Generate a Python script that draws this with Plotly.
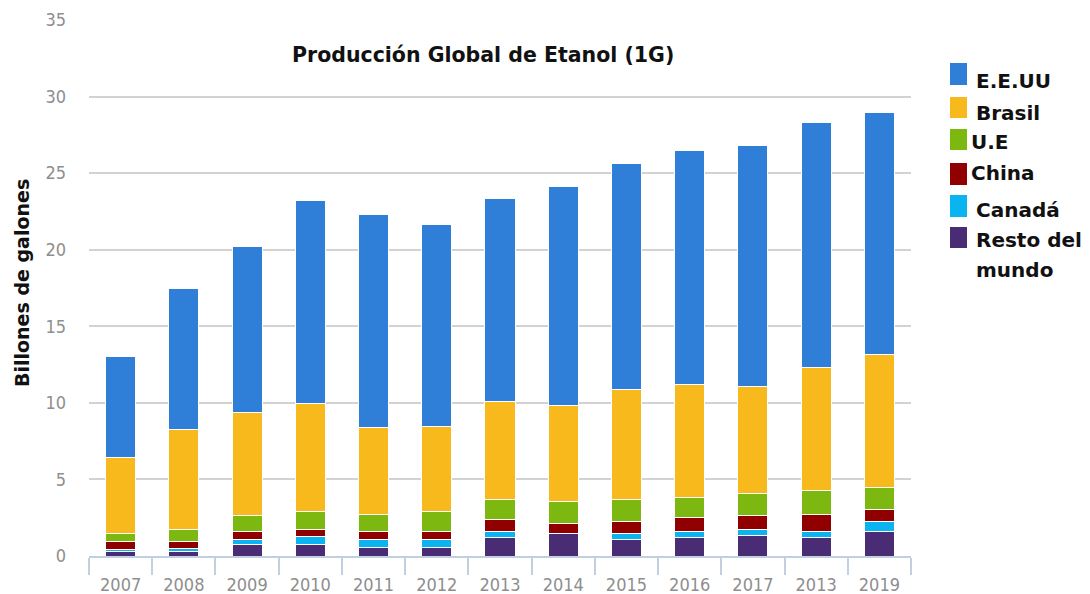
import plotly.graph_objects as go

# Global fuel ethanol production, billions of gallons
years = ["2007", "2008", "2009", "2010", "2011", "2012", "2013",
         "2014", "2015", "2016", "2017", "2018", "2019"]
year_labels = ["2007", "2008", "2009", "2010", "2011", "2012", "2013",
               "2014", "2015", "2016", "2017", "2013", "2019"]

resto_mundo = [0.28, 0.28, 0.78, 0.78, 0.54, 0.54, 1.22, 1.48, 1.09, 1.20, 1.33, 1.22, 1.59]
canada = [0.16, 0.22, 0.31, 0.48, 0.55, 0.55, 0.37, 0.00, 0.39, 0.39, 0.41, 0.37, 0.65]
china = [0.49, 0.43, 0.50, 0.48, 0.50, 0.50, 0.81, 0.66, 0.76, 0.91, 0.89, 1.15, 0.81]
ue = [0.55, 0.81, 1.04, 1.15, 1.15, 1.30, 1.30, 1.45, 1.46, 1.33, 1.47, 1.51, 1.44]
brasil = [4.94, 6.54, 6.71, 7.04, 5.62, 5.56, 6.36, 6.21, 7.14, 7.40, 7.00, 8.03, 8.64]
eeuu = [6.58, 9.16, 10.84, 13.26, 13.91, 13.17, 13.26, 14.30, 14.81, 15.22, 15.68, 16.00, 15.80]

series_names = ["Resto del mundo", "Canadá", "China", "U.E", "Brasil", "E.E.UU"]
series_values = [resto_mundo, canada, china, ue, brasil, eeuu]
series_colors = ["#4A2C74", "#0AB4F0", "#910000", "#7CB80F", "#F8B91C", "#2F7ED8"]

W, H = 1090, 594
ML, MR, MT, MB = 89, 179, 20, 38
PW, PH = W - ML - MR, H - MT - MB


def px_x(x):
    return (x - ML) / PW


def px_y(y):
    return (H - MB - y) / PH


fig = go.Figure()
for name, vals, col in zip(series_names, series_values, series_colors):
    fig.add_trace(go.Bar(
        x=years, y=vals, name=name, showlegend=False,
        marker=dict(color=col, line=dict(color="white", width=1)),
    ))

# hand-placed legend, top entry first
legend_rows = [
    # (series index, square top, square bottom, text x, text line centres)
    (5, 63, 85, 974, [81]),
    (4, 97, 118, 974, [113]),
    (3, 129, 150, 969, [142]),
    (2, 163, 185, 969, [173]),
    (1, 195, 217, 974, [210]),
    (0, 227, 248, 974, [240, 270]),
]
label_font = dict(family="DejaVu Sans", size=20, color="#111111", weight="bold")
shapes = []
annotations = []
for idx, y0, y1, tx, centres in legend_rows:
    shapes.append(dict(
        type="rect", xref="paper", yref="paper",
        x0=px_x(950), x1=px_x(967), y0=px_y(y1), y1=px_y(y0),
        fillcolor=series_colors[idx], line=dict(width=0),
    ))
    words = series_names[idx].split(" ")
    lines = [" ".join(words[:2])] + ([" ".join(words[2:])] if len(words) > 2 else [])
    for line, cy in zip(lines, centres):
        annotations.append(dict(
            text=line, xref="paper", yref="paper",
            x=px_x(tx), y=px_y(cy), xanchor="left", yanchor="middle",
            align="left", showarrow=False, font=label_font,
        ))

annotations.append(dict(
    text="Producción Global de Etanol (1G)", xref="paper", yref="paper",
    x=px_x(483), y=px_y(55), xanchor="center", yanchor="middle",
    showarrow=False,
    font=dict(family="DejaVu Sans", size=20.5, color="#111111", weight="bold"),
))
annotations.append(dict(
    text="Billones de galones", xref="paper", yref="paper",
    x=px_x(22), y=px_y(283), xanchor="center", yanchor="middle",
    textangle=-90, showarrow=False,
    font=dict(family="DejaVu Sans", size=19, color="#111111", weight="bold"),
))

tick_font = dict(family="DejaVu Sans Condensed", size=18, color="#8E8E8E")

fig.update_layout(
    width=W, height=H, autosize=False,
    margin=dict(l=ML, r=MR, t=MT, b=MB),
    paper_bgcolor="white", plot_bgcolor="white",
    barmode="stack", bargap=0.525,
    shapes=shapes, annotations=annotations,
    xaxis=dict(
        type="category", tickmode="array", tickvals=years, ticktext=year_labels,
        showgrid=False, showline=True, linecolor="#C0D0E0", linewidth=1.5,
        ticks="outside", tickson="boundaries", ticklen=17,
        tickcolor="#C0D0E0", tickwidth=1.5, ticklabelstandoff=12,
        tickfont=tick_font, automargin=False,
    ),
    yaxis=dict(
        range=[0, 35], dtick=5, showgrid=True, gridcolor="#D2D2D2", gridwidth=1.5,
        zeroline=False, showline=False, ticks="", ticklabelstandoff=22,
        tickfont=tick_font, automargin=False,
    ),
)

fig.write_html("out.html")
